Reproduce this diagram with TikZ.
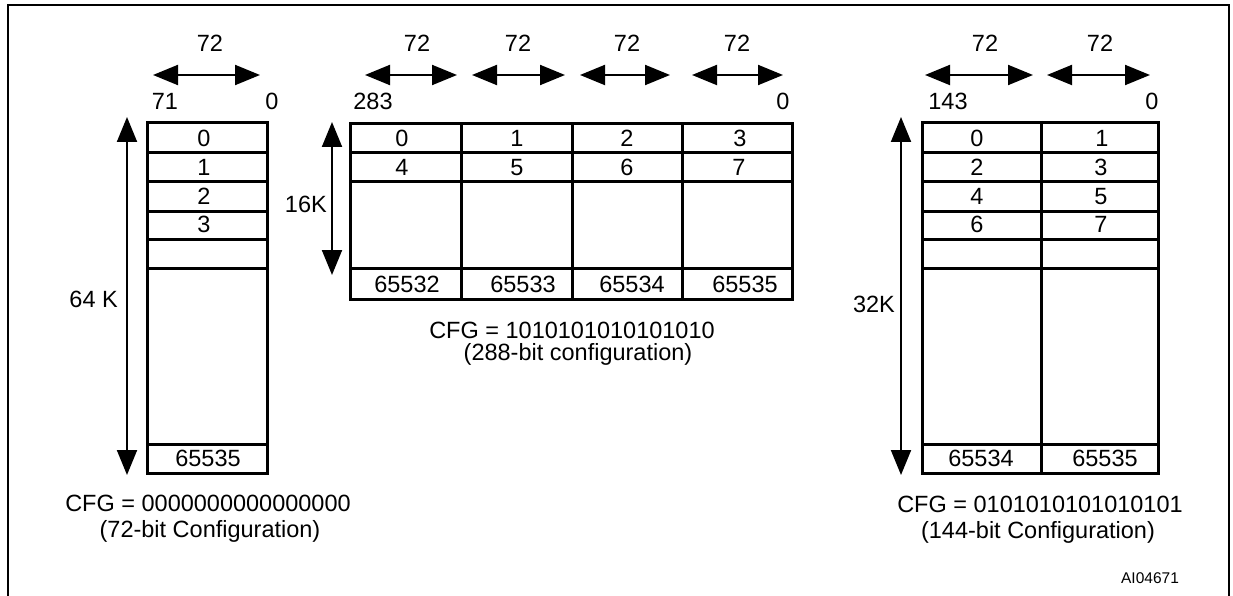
\documentclass[tikz,border=0pt]{standalone}
\usepackage{fontspec}
\setmainfont{Liberation Sans}
\usetikzlibrary{arrows.meta}

\begin{document}
\begin{tikzpicture}[x=1pt,y=-1pt,
    lbl/.style={font=\fontsize{23.5}{26}\selectfont,inner sep=0pt,anchor=base},
    tag/.style={font=\fontsize{15.5}{18}\selectfont,inner sep=0pt,anchor=base},
    mem/.style={line width=3pt},
    frm/.style={line width=2pt},
    dim/.style={line width=2pt,{Triangle[length=25pt,width=20pt]}-{Triangle[length=25pt,width=20pt]}}]
\useasboundingbox (0,0) rectangle (1233,596);
%%Frame
\draw[frm] (8,600) -- (8,5) -- (1229,5) -- (1229,600);

%%72-bit block
\draw[mem] (147,123) rectangle (267,473);
\draw[mem] (147,153) -- (267,153);
\draw[mem] (147,182) -- (267,182);
\draw[mem] (147,211) -- (267,211);
\draw[mem] (147,239) -- (267,239);
\draw[mem] (147,268) -- (267,268);
\draw[mem] (147,444) -- (267,444);

%%288-bit block
\draw[mem] (350,124) rectangle (792,299);
\draw[mem] (350,153) -- (792,153);
\draw[mem] (350,182) -- (792,182);
\draw[mem] (350,268) -- (792,268);
\draw[mem] (461,124) -- (461,299);
\draw[mem] (572,124) -- (572,299);
\draw[mem] (682,124) -- (682,299);

%%144-bit block
\draw[mem] (922,123) rectangle (1158,473);
\draw[mem] (922,153) -- (1158,153);
\draw[mem] (922,182) -- (1158,182);
\draw[mem] (922,211) -- (1158,211);
\draw[mem] (922,239) -- (1158,239);
\draw[mem] (922,268) -- (1158,268);
\draw[mem] (922,444) -- (1158,444);
\draw[mem] (1041,121) -- (1041,473);

%%Width arrows
\coordinate (aw1) at (153,75);  \coordinate (aw2) at (260,75);
\coordinate (bw1) at (365,75);  \coordinate (bw2) at (457,75);
\coordinate (bw3) at (472,75);  \coordinate (bw4) at (565,75);
\coordinate (bw5) at (580,75);  \coordinate (bw6) at (670,75);
\coordinate (bw7) at (692,75);  \coordinate (bw8) at (783,75);
\coordinate (cw1) at (925,75);  \coordinate (cw2) at (1033,75);
\coordinate (cw3) at (1047,75); \coordinate (cw4) at (1150,75);
\draw[dim] (aw1) -- (aw2);
\draw[dim] (bw1) -- (bw2);
\draw[dim] (bw3) -- (bw4);
\draw[dim] (bw5) -- (bw6);
\draw[dim] (bw7) -- (bw8);
\draw[dim] (cw1) -- (cw2);
\draw[dim] (cw3) -- (cw4);

%%Depth arrows
\coordinate (ad1) at (127,117); \coordinate (ad2) at (127,475);
\coordinate (bd1) at (332,122); \coordinate (bd2) at (332,275);
\coordinate (cd1) at (901,117); \coordinate (cd2) at (901,475);
\draw[dim] (ad1) -- (ad2);
\draw[dim] (bd1) -- (bd2);
\draw[dim] (cd1) -- (cd2);

%%Width labels
\node[lbl] (aw) at (210,52) {72};
\node[lbl] (bwa) at (417,52) {72};
\node[lbl] (bwb) at (518,52) {72};
\node[lbl] (bwc) at (627,52) {72};
\node[lbl] (bwd) at (737,52) {72};
\node[lbl] (cwa) at (985,52) {72};
\node[lbl] (cwb) at (1100,52) {72};
\node[lbl] (amsb) at (165,110) {71};
\node[lbl] (alsb) at (272,110) {0};
\node[lbl] (bmsb) at (373,110) {283};
\node[lbl] (blsb) at (783,110) {0};
\node[lbl] (cmsb) at (948,110) {143};
\node[lbl] (clsb) at (1152,110) {0};

%%Depth labels
\node[lbl,anchor=base east] (ad) at (118,307) {64 K};
\node[lbl,anchor=base east] (bd) at (327,212) {16K};
\node[lbl,anchor=base east] (cd) at (895,312) {32K};

%%Cell labels
\node[lbl] (a0) at (204,146.5) {0};
\node[lbl] (a1) at (204,175.5) {1};
\node[lbl] (a2) at (204,204.5) {2};
\node[lbl] (a3) at (204,232.5) {3};
\node[lbl] (aN) at (208,466.5) {65535};

\node[lbl] (b0) at (402,146.5) {0};
\node[lbl] (b1) at (517,146.5) {1};
\node[lbl] (b2) at (627,146.5) {2};
\node[lbl] (b3) at (740,146.5) {3};
\node[lbl] (b4) at (402,175.5) {4};
\node[lbl] (b5) at (517,175.5) {5};
\node[lbl] (b6) at (627,175.5) {6};
\node[lbl] (b7) at (739,175.5) {7};
\node[lbl] (bN1) at (407,292) {65532};
\node[lbl] (bN2) at (523,292) {65533};
\node[lbl] (bN3) at (632,292) {65534};
\node[lbl] (bN4) at (745,292) {65535};

\node[lbl] (c0) at (977,146.5) {0};
\node[lbl] (c1) at (1102,146.5) {1};
\node[lbl] (c2) at (977,175.5) {2};
\node[lbl] (c3) at (1101,175.5) {3};
\node[lbl] (c4) at (977,204.5) {4};
\node[lbl] (c5) at (1101,204.5) {5};
\node[lbl] (c6) at (977,232.5) {6};
\node[lbl] (c7) at (1101,232.5) {7};
\node[lbl] (cN1) at (981,466.5) {65534};
\node[lbl] (cN2) at (1105,466.5) {65535};

%%Configurations
\node[lbl] (acfg) at (208,511) {CFG = 0000000000000000};
\node[lbl] (atxt) at (210,537) {(72-bit Configuration)};
\node[lbl] (bcfg) at (572,338) {CFG = 1010101010101010};
\node[lbl] (btxt) at (578,360) {(288-bit configuration)};
\node[lbl] (ccfg) at (1040,512) {CFG = 0101010101010101};
\node[lbl] (ctxt) at (1038,538) {(144-bit Configuration)};
\node[tag] (fig) at (1150,583) {AI04671};

\end{tikzpicture}
\end{document}
